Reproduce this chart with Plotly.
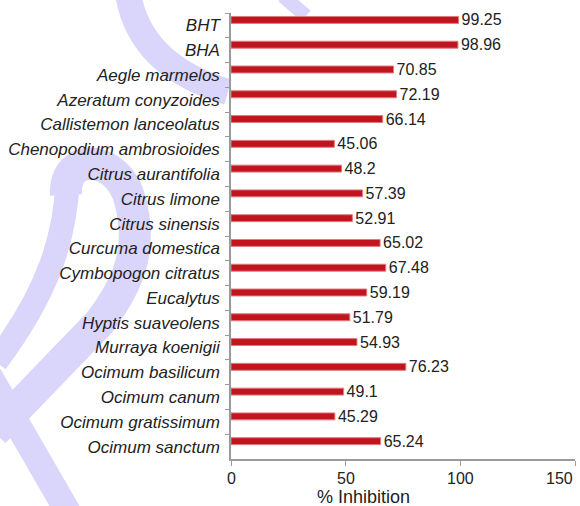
import plotly.graph_objects as go

# Inhibition (%) per essential oil / standard antioxidant
plants = [
    "BHT", "BHA", "Aegle marmelos", "Azeratum conyzoides", "Callistemon lanceolatus",
    "Chenopodium ambrosioides", "Citrus aurantifolia", "Citrus limone", "Citrus sinensis",
    "Curcuma domestica", "Cymbopogon citratus", "Eucalytus", "Hyptis suaveolens",
    "Murraya koenigii", "Ocimum basilicum", "Ocimum canum", "Ocimum gratissimum",
    "Ocimum sanctum",
]
inhibition = [99.25, 98.96, 70.85, 72.19, 66.14, 45.06, 48.2, 57.39, 52.91,
              65.02, 67.48, 59.19, 51.79, 54.93, 76.23, 49.1, 45.29, 65.24]
x_ticks = [0, 50, 100, 150]

FONT = "Liberation Sans, Arial, sans-serif"
INK = "#222222"
AXIS = "#9A9A9A"
W, H = 580, 506
ML, MR, MT, MB = 231, 5, 13, 47

fig = go.Figure(go.Bar(
    x=inhibition,
    y=plants,
    orientation="h",
    width=0.28,
    offset=-0.36,
    marker=dict(color="#C0141F", line=dict(color="#E27A7E", width=1)),
    text=[f"{v:g}" for v in inhibition],
    textposition="outside",
    constraintext="none",
    cliponaxis=False,
    textfont=dict(family=FONT, size=16, color=INK),
))


def px_path(points):
    """Build an SVG path in paper coordinates from pixel control points."""
    pw, ph = W - ML - MR, H - MT - MB
    out = []
    for p in points:
        if isinstance(p, str):
            out.append(p)
        else:
            x, y = p
            out.append(f"{(x - ML) / pw:.4f},{(H - MB - y) / ph:.4f}")
    return " ".join(out)


# faint background logo strokes
lav = "#D9D5FB"
strokes = [
    (["M", (128, -6), "Q", (140, 66), (228, 92)], 26),
    (["M", (283, -4), "L", (306, 16)], 14),
    (["M", (68, 175), "C", (66, 235), (50, 290), (-4, 362)], 24),
    (["M", (66, 195), "C", (64, 150), (118, 155), (130, 200),
      "C", (142, 245), (132, 280), (100, 322), "L", (-6, 432)], 32),
    (["M", (-14, 370), "L", (68, 512)], 26),
]
shapes = [
    dict(type="path", xref="paper", yref="paper", path=px_path(pts),
         line=dict(color=lav, width=w), layer="below")
    for pts, w in strokes
]

# x tick labels and axis title drawn as annotations; the last label is
# right-aligned to its tick so it stays inside the figure
annotations = [
    dict(text=str(v), xref="x", yref="paper", x=v, y=0, yshift=-19,
         xanchor="right" if v == x_ticks[-1] else "center", yanchor="middle",
         showarrow=False, font=dict(family=FONT, size=16, color=INK))
    for v in x_ticks
]
annotations.append(dict(
    text="% Inhibition", xref="x", yref="paper", x=57.6, y=0, yshift=-38,
    xanchor="center", yanchor="middle", showarrow=False,
    font=dict(family=FONT, size=18, color=INK),
))

fig.update_layout(
    width=W, height=H,
    margin=dict(l=ML, r=MR, t=MT, b=MB),
    plot_bgcolor="rgba(0,0,0,0)",
    paper_bgcolor="white",
    showlegend=False,
    shapes=shapes,
    annotations=annotations,
    font=dict(family=FONT, size=16, color=INK),
    xaxis=dict(
        range=[0, 150], tickvals=x_ticks, showticklabels=False,
        showgrid=False, zeroline=False,
        showline=True, linecolor=AXIS, linewidth=1.5,
        ticks="outside", ticklen=5, tickcolor=AXIS,
    ),
    yaxis=dict(
        autorange="reversed", showgrid=False, zeroline=False,
        showline=True, linecolor=AXIS, linewidth=1.5,
        ticks="outside", ticklen=4, tickcolor=AXIS, tickson="boundaries",
        ticklabelstandoff=6,
        tickfont=dict(family=FONT, size=17, color=INK, style="italic"),
    ),
)

fig.write_html("out.html")
